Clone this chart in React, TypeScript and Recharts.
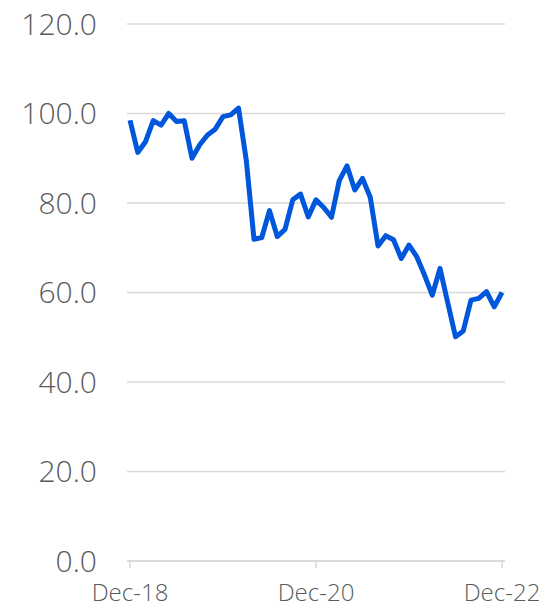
import React from 'react';
import { LineChart, Line, XAxis, YAxis, CartesianGrid } from 'recharts';

// monthly labels, Dec-18 .. Dec-22
const months = [
  'Dec-18', 'Jan-19', 'Feb-19', 'Mar-19', 'Apr-19', 'May-19', 'Jun-19', 'Jul-19', 'Aug-19', 'Sep-19', 'Oct-19', 'Nov-19',
  'Dec-19', 'Jan-20', 'Feb-20', 'Mar-20', 'Apr-20', 'May-20', 'Jun-20', 'Jul-20', 'Aug-20', 'Sep-20', 'Oct-20', 'Nov-20',
  'Dec-20', 'Jan-21', 'Feb-21', 'Mar-21', 'Apr-21', 'May-21', 'Jun-21', 'Jul-21', 'Aug-21', 'Sep-21', 'Oct-21', 'Nov-21',
  'Dec-21', 'Jan-22', 'Feb-22', 'Mar-22', 'Apr-22', 'May-22', 'Jun-22', 'Jul-22', 'Aug-22', 'Sep-22', 'Oct-22', 'Nov-22',
  'Dec-22',
];

const values = [
  98.5, 91.3, 93.7, 98.4, 97.4, 100.0, 98.2, 98.4, 90.0, 93.0, 95.2, 96.5,
  99.3, 99.7, 101.2, 89.6, 71.9, 72.3, 78.3, 72.5, 74.1, 80.7, 82.0, 76.9,
  80.7, 79.0, 76.8, 85.0, 88.3, 82.9, 85.5, 81.3, 70.4, 72.7, 71.8, 67.6,
  70.6, 68.0, 63.9, 59.4, 65.4, 57.7, 50.1, 51.4, 58.3, 58.7, 60.2, 56.8,
  60.0,
];

const xTicks = [0, 24, 48];
const yTicks = [0, 20, 40, 60, 80, 100, 120];

const data = values.map((v, i) => ({ i, month: months[i], value: v }));

const grey = '#d9d9d9';
const textColor = '#5a5a5a';
const font = '"Open Sans", "Liberation Sans", sans-serif';

export default function App() {
  // pull the svg over the default body margin so it fills the page
  return (
    <div style={{ margin: '-8px 0 0 -8px', width: 547, height: 609 }}>
      <LineChart width={547} height={609} data={data} margin={{ top: 24, right: 42, bottom: 0, left: 0 }}>
        <CartesianGrid stroke={grey} vertical={false} strokeWidth={1.5} />
        <XAxis
          dataKey="i"
          type="number"
          domain={[0, 48]}
          ticks={xTicks}
          tickFormatter={(v: number) => months[v]}
          padding={{ left: 3, right: 3 }}
          height={48}
          axisLine={{ stroke: grey, strokeWidth: 1.5 }}
          tickLine={{ stroke: grey, strokeWidth: 1.5 }}
          tickSize={7}
          tickMargin={16}
          tick={{ fill: textColor, fontSize: 24, fontFamily: font, fontWeight: 300 }}
          interval={0}
        />
        <YAxis
          domain={[0, 120]}
          ticks={yTicks}
          tickFormatter={(v: number) => v.toFixed(1)}
          width={127}
          axisLine={false}
          tickLine={false}
          tickSize={0}
          tickMargin={30}
          tick={{ fill: textColor, fontSize: 30, fontFamily: font, fontWeight: 300 }}
          interval={0}
        />
        <Line
          type="linear"
          dataKey="value"
          stroke="#0057db"
          strokeWidth={5}
          dot={false}
          strokeLinejoin="round"
          isAnimationActive={false}
        />
      </LineChart>
    </div>
  );
}
